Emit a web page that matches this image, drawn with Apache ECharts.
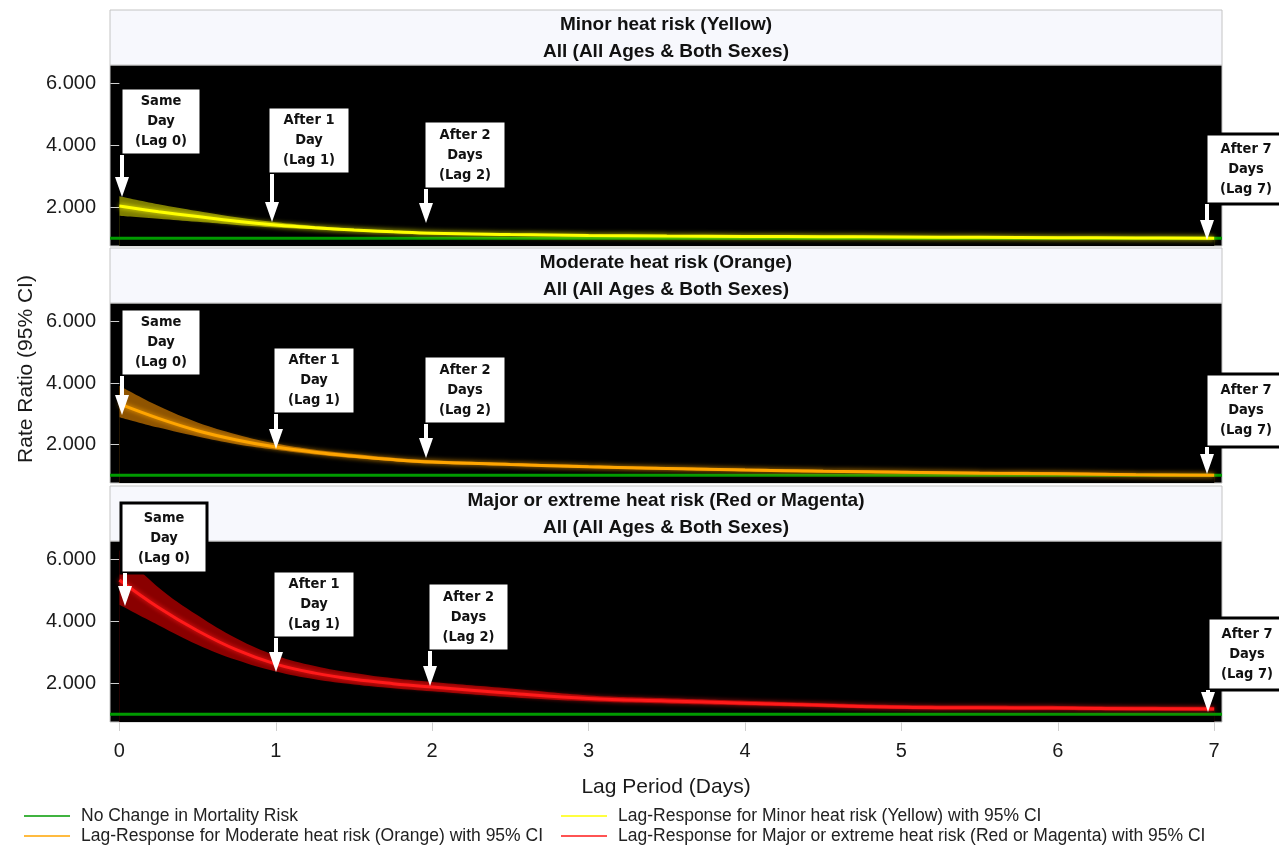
<!DOCTYPE html>
<html><head><meta charset="utf-8">
<script src="https://cdn.jsdelivr.net/npm/echarts@6/dist/echarts.min.js"></script>
<style>html,body{margin:0;padding:0;background:#fff}#c{width:1279px;height:847px}</style>
</head><body><div id="c"></div>
<script>
// ---------- DATA ----------
const lags = [0,0.25,0.5,0.75,1,1.25,1.5,1.75,2,2.5,3,3.5,4,4.5,5,5.5,6,6.5,7];

const minorMean  = [2.04,1.86,1.70,1.55,1.43,1.34,1.27,1.21,1.16,1.12,1.09,1.07,1.06,1.05,1.04,1.03,1.02,1.01,1.00];
const minorLower = [1.73,1.63,1.53,1.43,1.35,1.29,1.23,1.17,1.13,1.09,1.06,1.04,1.03,1.02,1.01,1.00,0.99,0.98,0.97];
const minorUpper = [2.36,2.10,1.88,1.68,1.52,1.40,1.31,1.25,1.20,1.15,1.12,1.10,1.09,1.08,1.07,1.06,1.05,1.04,1.03];

const moderateMean  = [3.32,2.85,2.45,2.15,1.92,1.75,1.62,1.51,1.43,1.35,1.28,1.22,1.17,1.13,1.10,1.07,1.05,1.02,1.00];
const moderateLower = [2.89,2.55,2.26,2.01,1.83,1.68,1.56,1.46,1.38,1.31,1.24,1.18,1.13,1.09,1.06,1.03,1.01,0.98,0.96];
const moderateUpper = [3.91,3.25,2.72,2.33,2.03,1.83,1.69,1.57,1.49,1.40,1.33,1.27,1.22,1.18,1.15,1.12,1.10,1.07,1.05];

const majorMean  = [5.34,4.45,3.70,3.08,2.62,2.33,2.13,1.99,1.88,1.68,1.51,1.43,1.36,1.29,1.23,1.21,1.20,1.18,1.17];
const majorLower = [4.54,3.88,3.25,2.75,2.38,2.13,1.96,1.84,1.74,1.55,1.42,1.35,1.29,1.23,1.17,1.15,1.14,1.12,1.11];
const majorUpper = [6.30,5.10,4.20,3.45,2.90,2.56,2.33,2.16,2.04,1.83,1.61,1.52,1.44,1.36,1.30,1.28,1.27,1.25,1.24];

const noChangeValue = 1;
const xTicks = [0,1,2,3,4,5,6,7];
const yTicks = [2,4,6];

const panelTitles = ['Minor heat risk (Yellow)','Moderate heat risk (Orange)','Major or extreme heat risk (Red or Magenta)'];
const panelSubtitle = 'All (All Ages & Both Sexes)';
const seriesNames = [
  'Lag-Response for Minor heat risk (Yellow) with 95% CI',
  'Lag-Response for Moderate heat risk (Orange) with 95% CI',
  'Lag-Response for Major or extreme heat risk (Red or Magenta) with 95% CI'
];
const noChangeName = 'No Change in Mortality Risk';
const annotationTexts = ['Same\nDay\n(Lag 0)','After 1\nDay\n(Lag 1)','After 2\nDays\n(Lag 2)','After 7\nDays\n(Lag 7)'];
const xAxisTitle = 'Lag Period (Days)';
const yAxisTitle = 'Rate Ratio (95% CI)';

// ---------- LAYOUT / STYLE ----------
const X_MIN = -0.06, X_MAX = 7.05, Y_MIN = 0.75, Y_MAX = 6.6;
const panels = [
  {headTop:10, top:65, height:181},
  {headTop:248, top:303, height:180},
  {headTop:486, top:541, height:181}
];
const PL = 110, PW = 1112;
const lineColors = ['#ffff00','#ffa500','#ff1a1a'];
const bandColors = ['#7c7c00','#8f5400','#8a0000'];
const FONT = "'Liberation Sans', Arial, sans-serif";
const ANN_FONT = "'Liberation Sans Narrow', 'DejaVu Sans Condensed', 'Roboto', sans-serif";
// annotation boxes: [boxX, boxY, boxW, boxH, arrowX, arrowTipY]
const annLayout = [
  [[121,88,80,67,122,197],[268,107,82,67,272,222],[424,121,82,68,426,223],[1206,134,80,70,1207,240]],
  [[121,309,80,67,122,415],[273,347,82,67,276,449],[424,356,82,68,426,458],[1206,374,80,73,1207,474]],
  [[121,503,86,70,125,606],[273,571,82,67,276,672],[428,583,81,68,430,686],[1208,618,78,72,1208,712]]
];

const meanData = [minorMean, moderateMean, majorMean];
const lowerData = [minorLower, moderateLower, majorLower];
const upperData = [minorUpper, moderateUpper, majorUpper];

const grids = [], xAxes = [], yAxes = [], series = [];
panels.forEach((p, i) => {
  grids.push({left:PL, width:PW, top:p.top, height:p.height, show:true,
    backgroundColor:'#000', borderColor:'#c4c4c4', borderWidth:1});
  const bottom = i === panels.length - 1;
  xAxes.push({type:'value', gridIndex:i, min:X_MIN, max:X_MAX,
    axisLine:{show:false}, splitLine:{show:false},
    axisTick:{show:bottom, customValues:xTicks, length:9, lineStyle:{color:'#cfcfcf'}},
    axisLabel:{show:bottom, customValues:xTicks, margin:19, fontSize:20, color:'#1a1a1a', fontFamily:FONT}
  });
  yAxes.push({type:'value', gridIndex:i, min:Y_MIN, max:Y_MAX,
    axisLine:{show:false}, splitLine:{show:false},
    axisTick:{show:true, customValues:yTicks, length:9, lineStyle:{color:'#cfcfcf'}},
    axisLabel:{customValues:yTicks, margin:14, fontSize:20, color:'#1a1a1a', fontFamily:FONT,
      formatter:v => v.toFixed(3)}
  });
  // CI band: upper area filled in band colour, lower area masked in black
  series.push({name:'ci_up_'+i, type:'line', xAxisIndex:i, yAxisIndex:i, symbol:'none', smooth:0.4,
    data:lags.map((x,k)=>[x,upperData[i][k]]), lineStyle:{width:0, opacity:0},
    areaStyle:{color:bandColors[i], opacity:1, origin:'start'}, z:2, silent:true});
  series.push({name:'ci_low_'+i, type:'line', xAxisIndex:i, yAxisIndex:i, symbol:'none', smooth:0.4,
    data:lags.map((x,k)=>[x,lowerData[i][k]]), lineStyle:{width:0, opacity:0},
    areaStyle:{color:'#000', opacity:1, origin:'start'}, z:2, silent:true});
  // no-change reference line
  series.push({name:noChangeName, type:'line', xAxisIndex:i, yAxisIndex:i, symbol:'none',
    data:[[X_MIN,noChangeValue],[X_MAX,noChangeValue]], color:'#009a00',
    lineStyle:{color:'#009a00', width:3}, z:3});
  // mean line
  series.push({name:seriesNames[i], type:'line', xAxisIndex:i, yAxisIndex:i, symbol:'none', smooth:0.4,
    data:lags.map((x,k)=>[x,meanData[i][k]]), color:lineColors[i],
    lineStyle:{color:lineColors[i], width:3, shadowColor:lineColors[i], shadowBlur:5}, z:4});
});

// graphics: headers, annotations, axis titles
const graphics = [];
panels.forEach((p, i) => {
  graphics.push({type:'rect', shape:{x:PL, y:p.headTop, width:PW, height:p.top - p.headTop},
    style:{fill:'#f7f8fd', stroke:'#c4c4c4', lineWidth:1}, z:1});
  graphics.push({type:'text', x:PL+PW/2, y:p.headTop+15, style:{text:panelTitles[i], font:'bold 19px '+FONT,
    fill:'#111', textAlign:'center', textVerticalAlign:'middle'}, z:2});
  graphics.push({type:'text', x:PL+PW/2, y:p.headTop+42, style:{text:panelSubtitle, font:'bold 19px '+FONT,
    fill:'#111', textAlign:'center', textVerticalAlign:'middle'}, z:2});
  annLayout[i].forEach((a, j) => {
    const [bx, by, bw, bh, ax, tip] = a;
    graphics.push({type:'rect', shape:{x:bx, y:by, width:bw, height:bh},
      style:{fill:'#fff', stroke:'#000', lineWidth:3}, z:20});
    graphics.push({type:'text', x:bx+bw/2, y:by+bh/2, style:{text:annotationTexts[j], font:'bold 14.5px '+ANN_FONT,
      fill:'#111', textAlign:'center', textVerticalAlign:'middle', lineHeight:20}, z:21});
    graphics.push({type:'rect', shape:{x:ax-2, y:by+bh, width:4, height:tip-(by+bh)-18},
      style:{fill:'#fff'}, z:20});
    graphics.push({type:'polygon', shape:{points:[[ax-7,tip-20],[ax+7,tip-20],[ax,tip]]},
      style:{fill:'#fff'}, z:20});
  });
});
graphics.push({type:'text', x:26, y:369, rotation:Math.PI/2, style:{text:yAxisTitle, font:'21px '+FONT,
  fill:'#1a1a1a', textAlign:'center', textVerticalAlign:'middle'}});
graphics.push({type:'text', x:PL+PW/2, y:787, style:{text:xAxisTitle, font:'21px '+FONT,
  fill:'#1a1a1a', textAlign:'center', textVerticalAlign:'middle'}});

const legendCommon = {orient:'vertical', top:806, padding:0, icon:'rect', itemWidth:46, itemHeight:1.5, itemGap:0,
  textStyle:{fontSize:17.5, fontFamily:FONT, color:'#222', lineHeight:20, padding:[0,0,0,6]}, selectedMode:false};

const option = {
  backgroundColor:'#fff',
  animation:false,
  grid:grids, xAxis:xAxes, yAxis:yAxes, series:series,
  legend:[
    Object.assign({left:24, data:[noChangeName, seriesNames[1]]}, legendCommon),
    Object.assign({left:561, data:[seriesNames[0], seriesNames[2]]}, legendCommon)
  ],
  graphic:graphics
};
const chart = echarts.init(document.getElementById('c'), null, {renderer:'canvas'});
chart.setOption(option);
</script></body></html>
